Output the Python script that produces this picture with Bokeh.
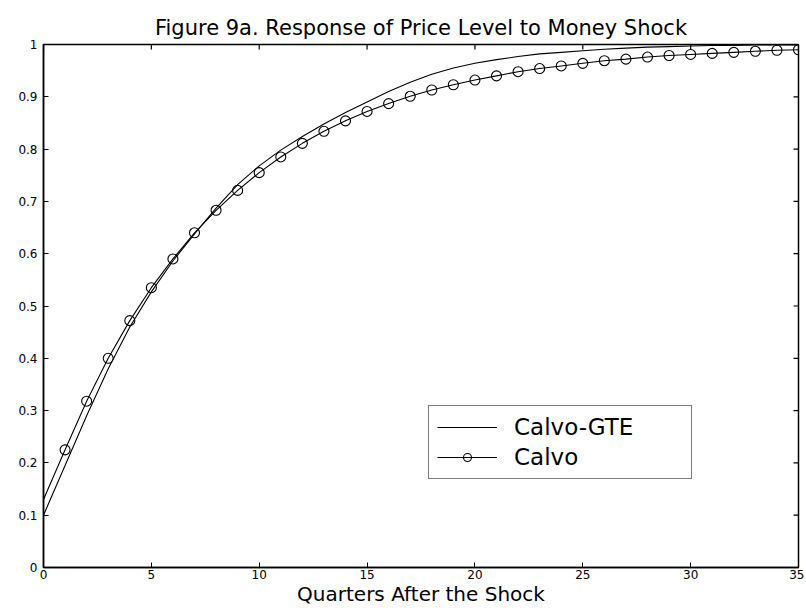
import math
from bokeh.plotting import figure
from bokeh.models import Range1d, FixedTicker, Legend, LegendItem
from bokeh.embed import file_html
from bokeh.resources import INLINE

# ---- data ----
quarters = list(range(36))
calvo_gte = [0.100, 0.195, 0.290, 0.380, 0.460, 0.527, 0.586, 0.638, 0.687, 0.732,
             0.768, 0.798, 0.824, 0.848, 0.870, 0.890, 0.910, 0.928, 0.943, 0.955,
             0.964, 0.971, 0.977, 0.982, 0.985, 0.988, 0.991, 0.993, 0.995, 0.996,
             0.997, 0.998, 0.998, 0.999, 0.999, 0.999]
calvo = [0.130, 0.225, 0.318, 0.400, 0.472, 0.535, 0.590, 0.640, 0.683, 0.721,
         0.755, 0.785, 0.811, 0.834, 0.854, 0.872, 0.887, 0.901, 0.913, 0.923,
         0.932, 0.940, 0.948, 0.954, 0.959, 0.964, 0.969, 0.972, 0.976, 0.979,
         0.981, 0.983, 0.985, 0.987, 0.989, 0.990]
x_ticks = [0, 5, 10, 15, 20, 25, 30, 35]
y_ticks = [0, 0.1, 0.2, 0.3, 0.4, 0.5, 0.6, 0.7, 0.8, 0.9, 1]
y_tick_labels = ["0", "0.1", "0.2", "0.3", "0.4", "0.5", "0.6", "0.7", "0.8", "0.9", "1"]
x_min, x_max = 0, 35
y_min, y_max = 0, 1
title_text = "Figure 9a. Response of Price Level to Money Shock"
x_label = "Quarters After the Shock"
series_names = ["Calvo-GTE", "Calvo"]

FONT = "DejaVu Sans"

p = figure(width=804, height=609, output_backend="svg", toolbar_location=None,
           x_range=Range1d(x_min, x_max), y_range=Range1d(y_min, y_max),
           min_border_left=43, min_border_right=6, min_border_top=44, min_border_bottom=42,
           title=title_text)
p.grid.visible = False
p.background_fill_color = "white"
p.border_fill_color = "white"
p.outline_line_color = "black"
p.outline_line_width = 1.5

p.title.align = "center"
p.title.text_font = FONT
p.title.text_font_size = "21px"
p.title.text_font_style = "normal"
p.title.text_color = "black"
p.title.standoff = 10

# bottom axis
xa = p.xaxis[0]
xa.ticker = FixedTicker(ticks=x_ticks)
xa.major_tick_in = 5
xa.major_tick_out = 0
xa.minor_tick_line_color = None
xa.major_label_standoff = 2
xa.major_label_text_font = FONT
xa.major_label_text_font_size = "12px"
xa.major_label_text_color = "black"
xa.axis_label = x_label
xa.axis_label_text_font = FONT
xa.axis_label_text_font_size = "20px"
xa.axis_label_text_font_style = "normal"
xa.axis_label_text_color = "black"
xa.axis_label_standoff = 0
xa.axis_line_color = "black"
xa.axis_line_width = 1.5

# left axis
ya = p.yaxis[0]
ya.ticker = FixedTicker(ticks=y_ticks)
ya.major_label_overrides = {t: s for t, s in zip(y_ticks, y_tick_labels)}
ya.major_tick_in = 5
ya.major_tick_out = 0
ya.minor_tick_line_color = None
ya.major_label_standoff = 6
ya.major_label_text_font = FONT
ya.major_label_text_font_size = "12px"
ya.major_label_text_color = "black"
ya.axis_line_color = "black"
ya.axis_line_width = 1.5

# inward tick marks on the top and right frame edges (clipped to the frame)
p.scatter(x_ticks, [y_max] * len(x_ticks), marker="dash", angle=math.pi / 2, size=10,
          line_color="black", line_width=1.2)
p.scatter([x_max] * len(y_ticks), y_ticks, marker="dash", size=10,
          line_color="black", line_width=1.2)

r_gte = p.line(quarters, calvo_gte, line_color="black", line_width=1.1)
r_calvo = p.line(quarters, calvo, line_color="black", line_width=1.1)
r_calvo_pts = p.scatter(quarters[1:], calvo[1:], marker="circle", size=10,
                        line_color="black", line_width=1.1, fill_alpha=0)

legend = Legend(items=[LegendItem(label=series_names[0], renderers=[r_gte]),
                       LegendItem(label=series_names[1], renderers=[r_calvo, r_calvo_pts])],
                location=(385, 88))
legend.border_line_color = "black"
legend.border_line_width = 1.5
legend.background_fill_color = "white"
legend.background_fill_alpha = 1
legend.label_text_font = FONT
legend.label_text_font_size = "23px"
legend.label_text_color = "black"
legend.glyph_width = 60
legend.glyph_height = 20
legend.label_height = 20
legend.label_standoff = 17
legend.label_width = 169
legend.padding = 8
legend.spacing = 4
legend.margin = 0
p.add_layout(legend)

open("out.html", "w").write(file_html(p, INLINE))
